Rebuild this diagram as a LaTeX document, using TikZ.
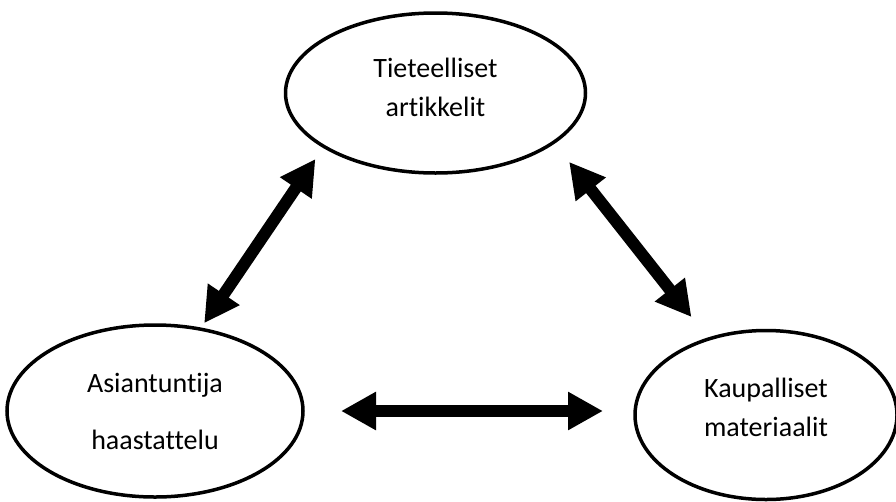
\documentclass[tikz,border=0pt]{standalone}
\usepackage{fontspec}
\setmainfont[Ligatures=NoCommon]{Carlito}
\usetikzlibrary{arrows.meta,shapes.geometric}

\begin{document}
\begin{tikzpicture}[
    x=1pt,y=-1pt,
    oval/.style={ellipse,draw,line width=3.5pt,inner sep=0pt,align=center,
      font=\fontsize{28}{39}\selectfont},
    twoway/.style={{Triangle[length=35pt,width=36pt]}-{Triangle[length=35pt,width=36pt]},
      line width=12pt}
  ]
    \useasboundingbox (0,0) rectangle (896,501);
    \node[oval,minimum width=300pt,minimum height=160pt,text depth=12pt] (tiet) at (435.5,93) {Tieteelliset\\artikkelit};
    \node[oval,minimum width=296pt,minimum height=172pt] (asian) at (155,411) {Asiantuntija\\[18pt]haastattelu};
    \node[oval,minimum width=262pt,minimum height=169pt,text depth=16pt] (kaup) at (766,415) {Kaupalliset\\materiaalit};
    \draw[twoway,shorten <=13.5pt,shorten >=5.2pt] (tiet.206.8) -- (asian.61.7);
    \draw[twoway,shorten <=23.3pt,shorten >=26.1pt] (tiet.337) -- (kaup.127.7);
    \draw[twoway,shorten <=36.25pt,shorten >=30.25pt] (asian.east) -- (asian.east -| kaup.west);
  \end{tikzpicture}
\end{document}
